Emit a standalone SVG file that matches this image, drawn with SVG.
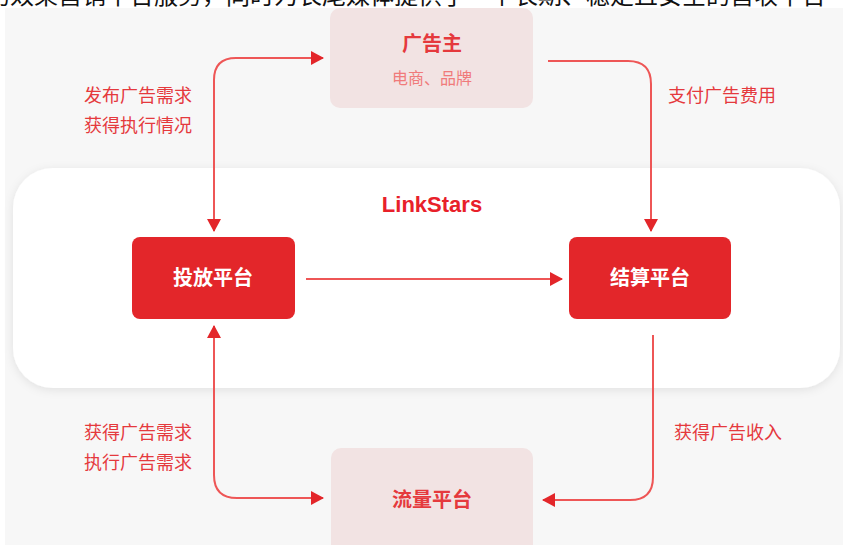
<svg xmlns="http://www.w3.org/2000/svg" width="843" height="545" viewBox="0 0 843 545">
<defs>
<style>
.cjk{font-family:"Noto Sans CJK SC","Noto Sans",sans-serif}
.lbl{font-size:18px;fill:#e5393d}
.title{font-size:20px;font-weight:bold;text-anchor:middle}
.pale{fill:#f2e3e3}
.red{fill:#e3262a}
.conn{fill:none;stroke:#ee5656;stroke-width:2}
</style>
<marker id="ah" viewBox="0 0 13 14" markerUnits="userSpaceOnUse" markerWidth="13" markerHeight="14" refX="12" refY="7" orient="auto-start-reverse">
<path d="M0,0 L13,7 L0,14 z" fill="#e3262a"/>
</marker>
<filter id="sh" x="-10%" y="-20%" width="120%" height="140%">
<feDropShadow dx="0" dy="2" stdDeviation="5" flood-color="#000" flood-opacity="0.09"/>
</filter>
</defs>
<rect width="843" height="545" fill="#ffffff"/>
<text class="cjk" x="-14" y="4" font-size="24" fill="#111" textLength="840" lengthAdjust="spacingAndGlyphs">的效果营销平台服务，同时为长尾媒体提供了一个长期、稳定且安全的营收平台</text>
<rect x="5" y="8" width="838" height="537" fill="#f7f7f7"/>
<rect x="13" y="168" width="827" height="220" rx="40" fill="#ffffff" filter="url(#sh)"/>
<text x="432" y="212" font-family="Liberation Sans, Arial, sans-serif" font-size="22" font-weight="bold" fill="#e8202a" text-anchor="middle">LinkStars</text>
<g id="advertiser">
<rect class="pale" x="330" y="8" width="203" height="100" rx="10"/>
<text class="cjk title" x="432" y="51" fill="#e5393d">广告主</text>
<text class="cjk" x="432" y="84" font-size="16" fill="#f07a7a" text-anchor="middle">电商、品牌</text>
</g>
<g id="delivery">
<rect class="red" x="132" y="237" width="163" height="82" rx="8"/>
<text class="cjk title" x="213" y="285" fill="#ffffff">投放平台</text>
</g>
<g id="settlement">
<rect class="red" x="569" y="237" width="162" height="82" rx="8"/>
<text class="cjk title" x="650" y="285" fill="#ffffff">结算平台</text>
</g>
<g id="traffic">
<rect class="pale" x="331" y="448" width="202" height="110" rx="10"/>
<text class="cjk title" x="432" y="507" fill="#e5393d">流量平台</text>
</g>
<g id="connectors">
<path class="conn" d="M214,231 V80 Q214,58 236,58 H323" marker-start="url(#ah)" marker-end="url(#ah)"/>
<path class="conn" d="M548,61 H628 Q651,61 651,84 V231" marker-end="url(#ah)"/>
<path class="conn" d="M306,279 H562" marker-end="url(#ah)"/>
<path class="conn" d="M653,335 V477 Q653,500 630,500 H543" marker-end="url(#ah)"/>
<path class="conn" d="M214,326 V475 Q214,498 237,498 H323" marker-start="url(#ah)" marker-end="url(#ah)"/>
</g>
<g id="labels">
<text class="cjk lbl" x="84" y="102">发布广告需求</text>
<text class="cjk lbl" x="84" y="132">获得执行情况</text>
<text class="cjk lbl" x="668" y="102">支付广告费用</text>
<text class="cjk lbl" x="674" y="439">获得广告收入</text>
<text class="cjk lbl" x="84" y="439">获得广告需求</text>
<text class="cjk lbl" x="84" y="469">执行广告需求</text>
</g>
</svg>
